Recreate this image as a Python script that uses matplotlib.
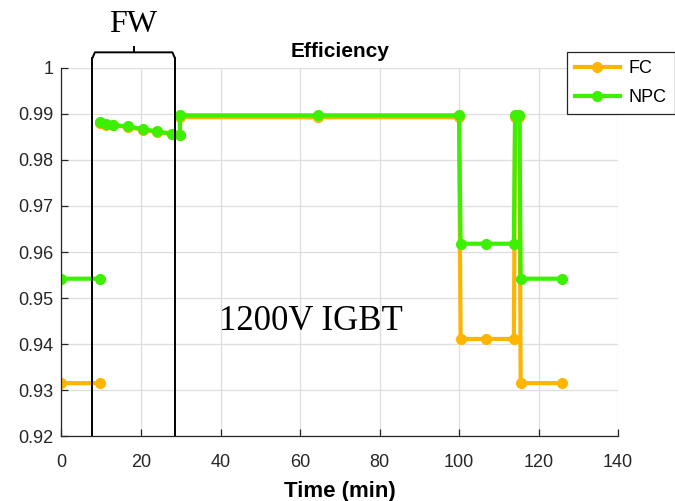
import numpy as np
import matplotlib
matplotlib.use("Agg")
import matplotlib.pyplot as plt

# Data (time in min, efficiency as fraction)
time_min = [0, 9.6, np.nan, 9.7, 11.1, 13.0, 16.7, 20.4, 24.1, 27.9, 29.8,
            29.8, 64.5, 100.0, 100.4, 106.7, 113.8, 114.1, 115.2, 115.5, 125.8]
eff_fc = [0.9315, 0.9315, np.nan, 0.9881, 0.9877, 0.9875, 0.9872, 0.9866, 0.9861, 0.9856, 0.9854,
          0.9893, 0.9893, 0.9893, 0.9411, 0.9411, 0.9411, 0.9893, 0.9893, 0.9315, 0.9315]
eff_npc = [0.9542, 0.9542, np.nan, 0.9882, 0.9878, 0.9876, 0.9873, 0.9867, 0.9862, 0.9857, 0.9855,
           0.9897, 0.9897, 0.9897, 0.9618, 0.9618, 0.9618, 0.9897, 0.9897, 0.9542, 0.9542]
series_names = ["FC", "NPC"]
series_colors = ["#ffb400", "#3cf000"]

fw_start, fw_end = 7.8, 28.5
x_ticks = np.arange(0, 141, 20)
y_ticks = [0.92, 0.93, 0.94, 0.95, 0.96, 0.97, 0.98, 0.99, 1]
y_ticklabels = ["0.92", "0.93", "0.94", "0.95", "0.96", "0.97", "0.98", "0.99", "1"]

plt.rcParams["font.family"] = ["Liberation Sans", "DejaVu Sans"]

fig = plt.figure(figsize=(6.75, 5.01), dpi=100)
ax = fig.add_axes([0.0911, 0.1297, 0.8245, 0.7346])

for vals, name, col in zip([eff_fc, eff_npc], series_names, series_colors):
    ax.plot(time_min, vals, color=col, lw=3, marker="o", markersize=7,
            markerfacecolor=col, markeredgecolor=col, label=name)

ax.set_xlim(0, 140)
ax.set_ylim(0.92, 1.0)
ax.set_xticks(x_ticks)
ax.set_yticks(y_ticks)
ax.set_yticklabels(y_ticklabels)
ax.grid(True, color="#dedede", lw=0.9)
ax.set_axisbelow(True)
for s in ["top", "right"]:
    ax.spines[s].set_visible(False)
for s in ["left", "bottom"]:
    ax.spines[s].set_color("#262626")
    ax.spines[s].set_linewidth(0.9)
ax.tick_params(direction="in", length=5, width=0.9, labelsize=13,
               colors="#262626", pad=6)
ax.tick_params(axis="x", pad=13)

ax.set_title("Efficiency", fontsize=15, fontweight="bold", pad=8)
ax.set_xlabel("Time (min)", fontsize=16, fontweight="bold", labelpad=7)

# FW window: box with a bracket on top
y_top = 1.0022
y_br = 1.0034
ax.plot([fw_start, fw_start], [0.92, y_top], color="black", lw=1.4, clip_on=False)
ax.plot([fw_end, fw_end], [0.92, y_top], color="black", lw=1.4, clip_on=False)
ax.plot([fw_start, fw_start + 0.6, fw_end - 0.6, fw_end],
        [y_top, y_br, y_br, y_top], color="black", lw=1.4, clip_on=False)
mid = (fw_start + fw_end) / 2
ax.plot([mid, mid], [y_br, y_br + 0.0012], color="black", lw=1.4, clip_on=False)
fig.text(0.197, 0.951, "FW", family="Liberation Serif", fontsize=23,
         ha="center", va="center")

ax.text(62.7, 0.9450, "1200V IGBT", family="Liberation Serif", fontsize=25,
        ha="center", va="center")

leg = fig.legend(loc="upper right", bbox_to_anchor=(1.0, 0.896), fontsize=13,
                 handlelength=2.5, labelspacing=0.65, borderpad=0.45,
                 handletextpad=0.5, borderaxespad=0, fancybox=False,
                 framealpha=1, edgecolor="#262626")
leg.get_frame().set_linewidth(0.9)

fig.savefig("out.png", dpi=100)
